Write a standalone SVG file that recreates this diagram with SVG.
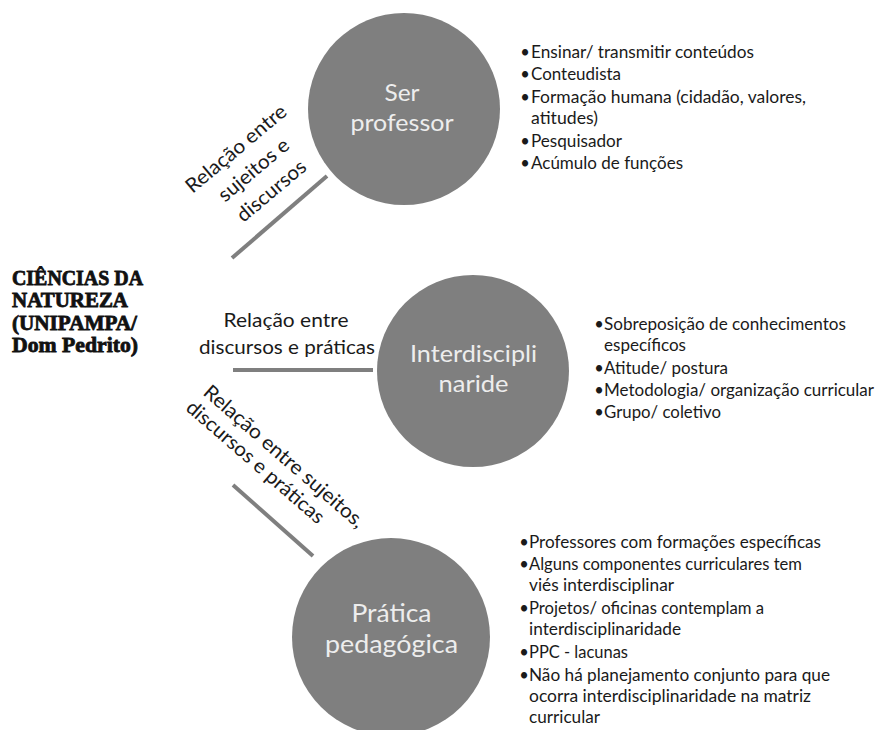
<svg xmlns="http://www.w3.org/2000/svg" width="878" height="730" viewBox="0 0 878 730">
<style>
.bg{fill:#ffffff}
.node circle{fill:#7f7f7f}
.ctext{font-family:Lato,"Open Sans",sans-serif;fill:#ededed;text-anchor:middle;font-size:24px}
.ctext3{font-size:25.7px}
.lst{font-family:Lato,"Open Sans",sans-serif;font-size:16.5px;fill:#1a1a1a}
.bul{font-family:Lato,"Open Sans",sans-serif;font-size:16.5px;fill:#1a1a1a;text-anchor:middle}
.lbl{font-family:Lato,"Open Sans",sans-serif;font-size:20px;fill:#1a1a1a}
.mid{text-anchor:middle}
.conn line{stroke:#7f7f7f;stroke-width:4}
.title{font-family:"Liberation Serif",serif;font-weight:bold;font-size:20.5px;fill:#111;stroke:#111;stroke-width:0.8}
</style>
<rect class="bg" x="0" y="0" width="878" height="730"/>

<g id="title">
<text class="title" x="12" y="285" textLength="131" lengthAdjust="spacingAndGlyphs">CIÊNCIAS DA</text>
<text class="title" x="12" y="307" textLength="116" lengthAdjust="spacingAndGlyphs">NATUREZA</text>
<text class="title" x="12" y="330" textLength="125" lengthAdjust="spacingAndGlyphs">(UNIPAMPA/</text>
<text class="title" x="12" y="352" textLength="126" lengthAdjust="spacingAndGlyphs">Dom Pedrito)</text>
</g>

<g id="connectors" class="conn">
<line x1="232" y1="258" x2="327" y2="176"/>
<line x1="233" y1="370" x2="373" y2="370"/>
<line x1="233" y1="485" x2="313" y2="556"/>
<g transform="translate(258,175) rotate(-40)">
<text class="lbl mid" x="0" y="-27.5" textLength="125" lengthAdjust="spacingAndGlyphs">Relação entre</text>
<text class="lbl mid" x="0" y="0" textLength="86" lengthAdjust="spacingAndGlyphs">sujeitos e</text>
<text class="lbl mid" x="0" y="27.5" textLength="84" lengthAdjust="spacingAndGlyphs">discursos</text>
</g>
<text class="lbl mid" x="286" y="327" textLength="125" lengthAdjust="spacingAndGlyphs">Relação entre</text>
<text class="lbl mid" x="287" y="354" textLength="176" lengthAdjust="spacingAndGlyphs">discursos e práticas</text>
<g transform="translate(202,394) rotate(41)">
<text class="lbl" x="0" y="0" textLength="206" lengthAdjust="spacingAndGlyphs">Relação entre sujeitos,</text>
<text class="lbl" x="-3" y="23" textLength="176" lengthAdjust="spacingAndGlyphs">discursos e práticas</text>
</g>
</g>

<g id="node-ser-professor" class="node">
<circle cx="404" cy="109" r="96"/>
<text class="ctext" x="402" y="101" textLength="35" lengthAdjust="spacingAndGlyphs">Ser</text>
<text class="ctext" x="402" y="131" textLength="103" lengthAdjust="spacingAndGlyphs">professor</text>
<g>
<text class="bul" x="525" y="58">•</text><text class="lst" x="531" y="58" textLength="223" lengthAdjust="spacingAndGlyphs">Ensinar/ transmitir conteúdos</text>
<text class="bul" x="525" y="80">•</text><text class="lst" x="531" y="80" textLength="90" lengthAdjust="spacingAndGlyphs">Conteudista</text>
<text class="bul" x="525" y="103">•</text><text class="lst" x="531" y="103" textLength="275" lengthAdjust="spacingAndGlyphs">Formação humana (cidadão, valores,</text>
<text class="lst" x="531" y="124" textLength="67" lengthAdjust="spacingAndGlyphs">atitudes)</text>
<text class="bul" x="525" y="147">•</text><text class="lst" x="531" y="147" textLength="91" lengthAdjust="spacingAndGlyphs">Pesquisador</text>
<text class="bul" x="525" y="169">•</text><text class="lst" x="531" y="169" textLength="152" lengthAdjust="spacingAndGlyphs">Acúmulo de funções</text>
</g>
</g>

<g id="node-interdisciplinaridade" class="node">
<circle cx="473" cy="371" r="96"/>
<text class="ctext" x="473.5" y="362" textLength="127" lengthAdjust="spacingAndGlyphs">Interdiscipli</text>
<text class="ctext" x="473.5" y="392" textLength="70" lengthAdjust="spacingAndGlyphs">naride</text>
<g>
<text class="bul" x="599" y="330">•</text><text class="lst" x="604" y="330" textLength="242" lengthAdjust="spacingAndGlyphs">Sobreposição de conhecimentos</text>
<text class="lst" x="604" y="351" textLength="82" lengthAdjust="spacingAndGlyphs">específicos</text>
<text class="bul" x="599" y="374">•</text><text class="lst" x="604" y="374" textLength="124" lengthAdjust="spacingAndGlyphs">Atitude/ postura</text>
<text class="bul" x="599" y="396">•</text><text class="lst" x="604" y="396" textLength="270" lengthAdjust="spacingAndGlyphs">Metodologia/ organização curricular</text>
<text class="bul" x="599" y="418">•</text><text class="lst" x="604" y="418" textLength="117" lengthAdjust="spacingAndGlyphs">Grupo/ coletivo</text>
</g>
</g>

<g id="node-pratica-pedagogica" class="node">
<circle cx="391" cy="637" r="99"/>
<text class="ctext ctext3" x="391.5" y="622" textLength="80" lengthAdjust="spacingAndGlyphs">Prática</text>
<text class="ctext ctext3" x="391.5" y="653" textLength="133" lengthAdjust="spacingAndGlyphs">pedagógica</text>
<g>
<text class="bul" x="524" y="548">•</text><text class="lst" x="529" y="548" textLength="292" lengthAdjust="spacingAndGlyphs">Professores com formações específicas</text>
<text class="bul" x="524" y="570">•</text><text class="lst" x="529" y="570" textLength="273" lengthAdjust="spacingAndGlyphs">Alguns componentes curriculares tem</text>
<text class="lst" x="529" y="591" textLength="145" lengthAdjust="spacingAndGlyphs">viés interdisciplinar</text>
<text class="bul" x="524" y="614">•</text><text class="lst" x="529" y="614" textLength="235" lengthAdjust="spacingAndGlyphs">Projetos/ oficinas contemplam a</text>
<text class="lst" x="529" y="635" textLength="152" lengthAdjust="spacingAndGlyphs">interdisciplinaridade</text>
<text class="bul" x="524" y="658">•</text><text class="lst" x="529" y="658" textLength="99" lengthAdjust="spacingAndGlyphs">PPC - lacunas</text>
<text class="bul" x="524" y="681">•</text><text class="lst" x="529" y="681" textLength="301" lengthAdjust="spacingAndGlyphs">Não há planejamento conjunto para que</text>
<text class="lst" x="529" y="702" textLength="282" lengthAdjust="spacingAndGlyphs">ocorra interdisciplinaridade na matriz</text>
<text class="lst" x="529" y="723" textLength="71" lengthAdjust="spacingAndGlyphs">curricular</text>
</g>
</g>
</svg>
